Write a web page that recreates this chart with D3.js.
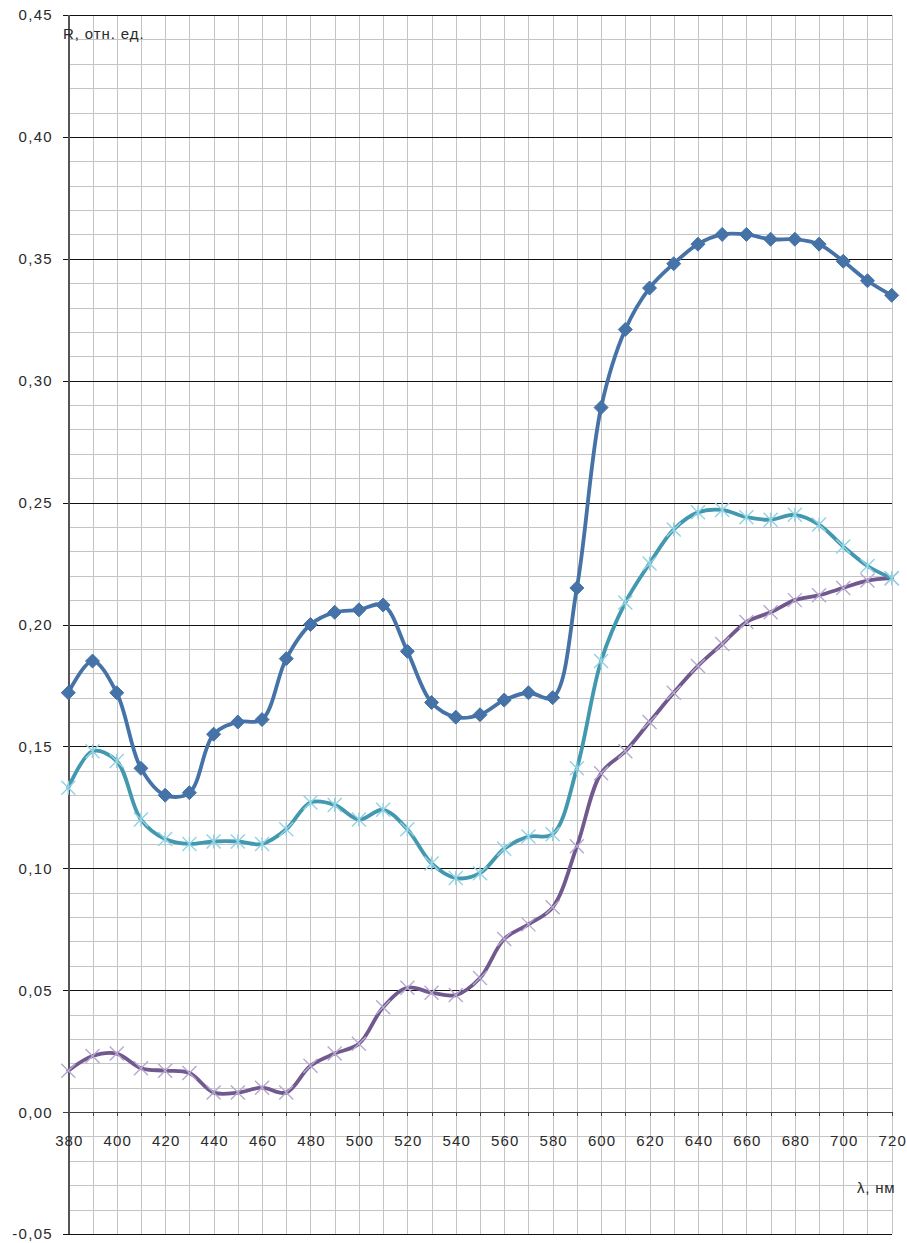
<!DOCTYPE html>
<html>
<head>
<meta charset="utf-8">
<script src="https://cdn.jsdelivr.net/npm/d3@7"></script>
<style>
  html, body { margin: 0; padding: 0; background: #fff; }
  svg { display: block; }
  text { font-family: "Liberation Sans", Arial, sans-serif; fill: #2a2a2a; }
</style>
</head>
<body>
<svg id="chart" width="907" height="1243"></svg>
<script>
// Wavelength, nm
const wavelengths = [380, 390, 400, 410, 420, 430, 440, 450, 460, 470, 480, 490, 500, 510, 520, 530, 540, 550, 560, 570, 580, 590, 600, 610, 620, 630, 640, 650, 660, 670, 680, 690, 700, 710, 720];

// Reflectance spectra, relative units
const seriesBlue = [0.172, 0.185, 0.172, 0.141, 0.130, 0.131, 0.155, 0.160, 0.161, 0.186, 0.200, 0.205, 0.206, 0.208, 0.189, 0.168, 0.162, 0.163, 0.169, 0.172, 0.170, 0.215, 0.289, 0.321, 0.338, 0.348, 0.356, 0.360, 0.360, 0.358, 0.358, 0.356, 0.349, 0.341, 0.335];
const seriesTeal = [0.133, 0.148, 0.144, 0.120, 0.112, 0.110, 0.111, 0.111, 0.110, 0.116, 0.127, 0.126, 0.120, 0.124, 0.116, 0.102, 0.096, 0.098, 0.108, 0.113, 0.114, 0.141, 0.185, 0.209, 0.225, 0.239, 0.246, 0.247, 0.244, 0.243, 0.245, 0.241, 0.232, 0.224, 0.219];
const seriesPurple = [0.017, 0.023, 0.024, 0.018, 0.017, 0.016, 0.008, 0.008, 0.010, 0.008, 0.019, 0.024, 0.028, 0.043, 0.051, 0.049, 0.048, 0.055, 0.071, 0.077, 0.084, 0.109, 0.139, 0.148, 0.160, 0.172, 0.183, 0.192, 0.201, 0.205, 0.210, 0.212, 0.215, 0.218, 0.219];

// Axis ticks
const xLabelTicks = [380, 400, 420, 440, 460, 480, 500, 520, 540, 560, 580, 600, 620, 640, 660, 680, 700, 720];
const yMajorTicks = [-0.05, 0.00, 0.05, 0.10, 0.15, 0.20, 0.25, 0.30, 0.35, 0.40, 0.45];
const yMinorStep = 0.01;

(function draw() {
  const svg = d3.select("#chart");
  const plotLeft = 68.3, plotRight = 891.7, plotTop = 15, plotBottom = 1234;

  const x = d3.scaleLinear().domain([380, 720]).range([plotLeft, plotRight]);
  const y = d3.scaleLinear().domain([-0.05, 0.45]).range([plotBottom, plotTop]);
  const fmt = v => d3.format(".2f")(v).replace(".", ",").replace("−", "-");
  const yMinorTicks = d3.range(-5, 46).map(k => k * yMinorStep);
  const snap = v => Math.round(v) + 0.5;

  // Minor grid
  const grid = svg.append("g").attr("shape-rendering", "crispEdges");
  grid.selectAll("line.hmin").data(yMinorTicks).join("line")
    .attr("x1", plotLeft).attr("x2", plotRight)
    .attr("y1", d => snap(y(d))).attr("y2", d => snap(y(d)))
    .attr("stroke", "#c4c4c4").attr("stroke-width", 1);
  grid.selectAll("line.vmin").data(wavelengths).join("line")
    .attr("y1", plotTop).attr("y2", plotBottom)
    .attr("x1", d => snap(x(d))).attr("x2", d => snap(x(d)))
    .attr("stroke", "#c4c4c4").attr("stroke-width", 1);

  // Major horizontal grid lines with left tick marks
  grid.selectAll("line.hmaj").data(yMajorTicks).join("line")
    .attr("x1", plotLeft - 5).attr("x2", plotRight)
    .attr("y1", d => snap(y(d))).attr("y2", d => snap(y(d)))
    .attr("stroke", d => d === 0 ? "#404040" : "#111").attr("stroke-width", 1);

  // Vertical axis line
  grid.append("line")
    .attr("x1", snap(plotLeft)).attr("x2", snap(plotLeft))
    .attr("y1", plotTop).attr("y2", plotBottom)
    .attr("stroke", "#555").attr("stroke-width", 2);

  // Tick marks on the x axis (at y = 0)
  grid.selectAll("line.xtick").data(wavelengths).join("line")
    .attr("x1", d => snap(x(d))).attr("x2", d => snap(x(d)))
    .attr("y1", Math.round(y(0))).attr("y2", Math.round(y(0)) + 4)
    .attr("stroke", "#404040").attr("stroke-width", 1);

  // Y tick labels
  svg.append("g").selectAll("text").data(yMajorTicks).join("text")
    .attr("x", 53).attr("y", d => y(d))
    .attr("dy", "0.36em")
    .attr("text-anchor", "end")
    .attr("font-size", 15)
    .style("letter-spacing", "1.3px")
    .text(d => fmt(d));

  // X tick labels
  svg.append("g").selectAll("text").data(xLabelTicks).join("text")
    .attr("x", d => x(d) + 1)
    .attr("y", y(0) + 28)
    .attr("dy", "0.36em")
    .attr("text-anchor", "middle")
    .attr("font-size", 15)
    .style("letter-spacing", "1.1px")
    .text(d => d);

  // Axis titles
  svg.append("text")
    .attr("x", 63).attr("y", 39)
    .attr("font-size", 15)
    .style("letter-spacing", "0.9px")
    .text("R, отн. ед.");
  svg.append("text")
    .attr("x", 857).attr("y", 1193)
    .attr("font-size", 15)
    .style("letter-spacing", "0.8px")
    .text("λ, нм");

  // Series
  const lineGen = d3.line()
    .x(d => x(d[0])).y(d => y(d[1]))
    .curve(d3.curveCatmullRom.alpha(0.5));

  const series = [
    { values: seriesBlue, color: "#4572a7", marker: "diamond", markerColor: "#4572a7" },
    { values: seriesPurple, color: "#71588f", marker: "x", markerColor: "#b7a8cf" },
    { values: seriesTeal, color: "#4198af", marker: "star", markerColor: "#93d2e2" }
  ];

  series.forEach(s => {
    const pts = wavelengths.map((w, i) => [w, s.values[i]]);
    const g = svg.append("g");
    g.append("path")
      .attr("d", lineGen(pts))
      .attr("fill", "none")
      .attr("stroke", s.color)
      .attr("stroke-width", 3.8)
      .attr("stroke-linejoin", "round")
      .attr("stroke-linecap", "round");

    const m = g.selectAll("g.m").data(pts).join("g")
      .attr("transform", d => `translate(${x(d[0])},${y(d[1])})`);

    if (s.marker === "diamond") {
      m.append("path")
        .attr("d", "M0,-7L7,0L0,7L-7,0Z")
        .attr("fill", s.markerColor)
        .attr("stroke", s.markerColor)
        .attr("stroke-width", 1);
    } else {
      const r = 7;
      let d = `M${-r},${-r}L${r},${r}M${-r},${r}L${r},${-r}`;
      if (s.marker === "star") d += `M0,${-r}L0,${r}`;
      m.append("path")
        .attr("d", d)
        .attr("fill", "none")
        .attr("stroke", s.markerColor)
        .attr("stroke-width", 1.4);
    }
  });
})();
</script>
</body>
</html>
